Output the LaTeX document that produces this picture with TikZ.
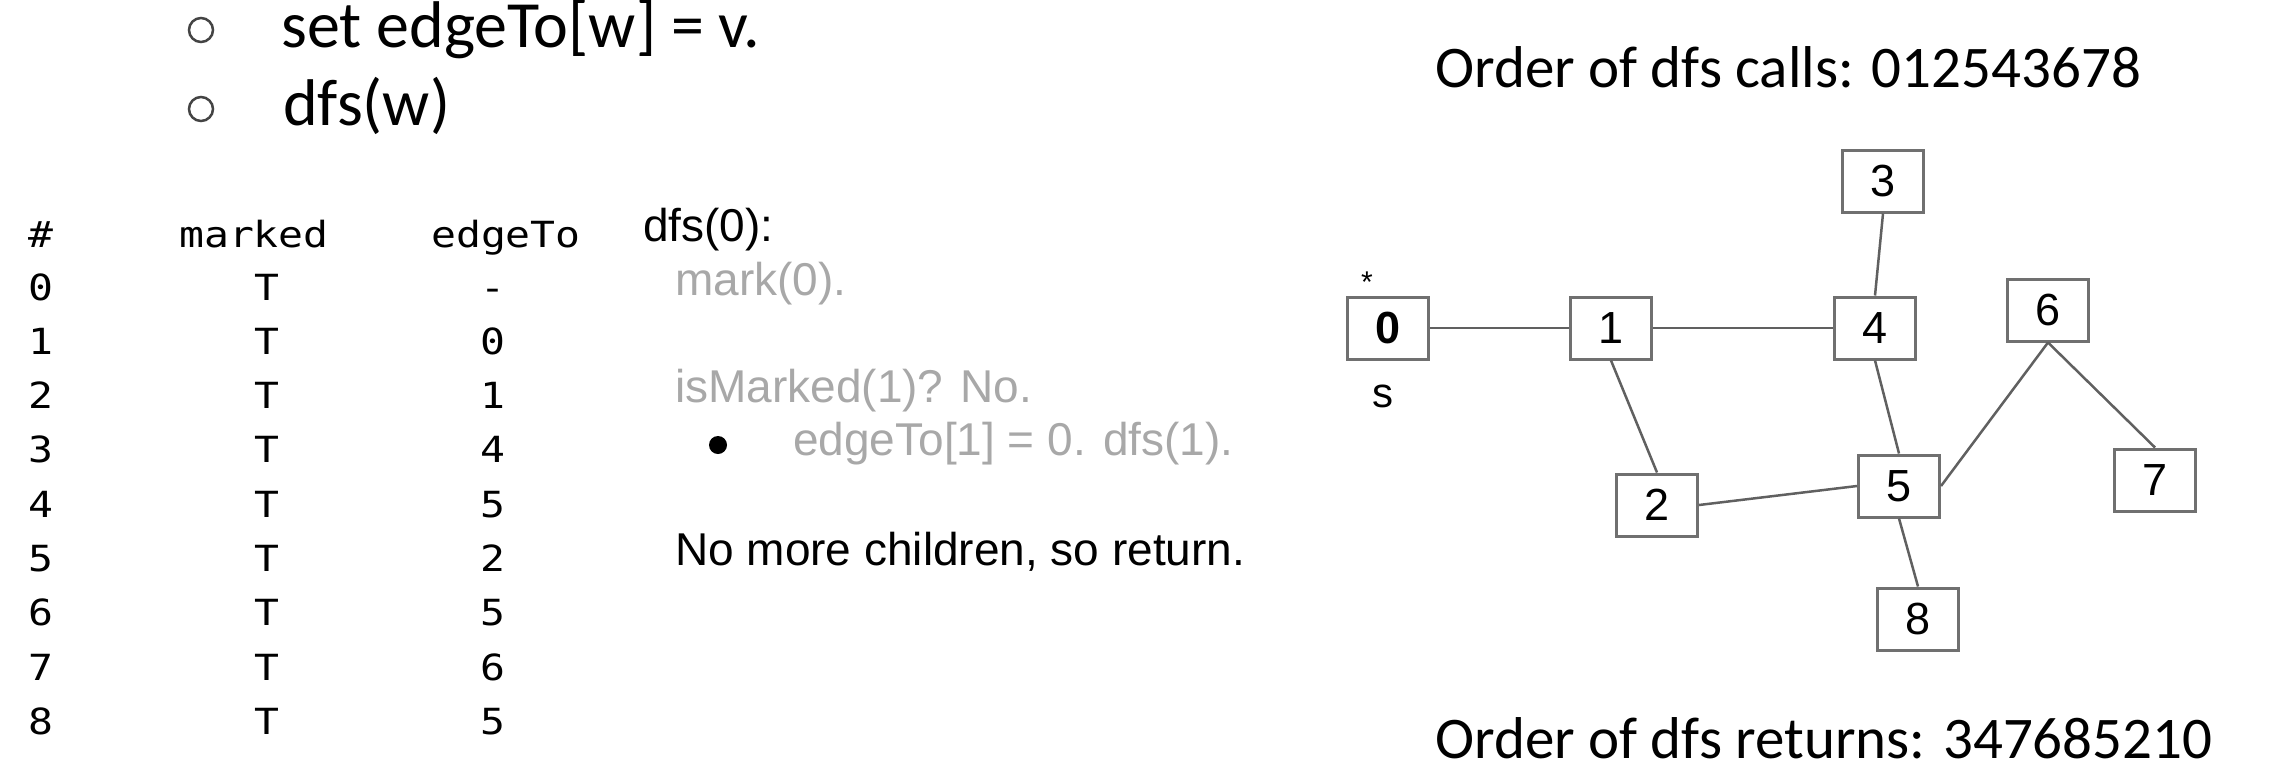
\documentclass[tikz,border=0pt]{standalone}
\usepackage{fontspec}
\setmainfont{Liberation Sans}
\newfontfamily\calib{Carlito}
\newfontfamily\monof[FakeStretch=1.15]{DejaVu Sans Mono}
\definecolor{vgray}{HTML}{707070}
\definecolor{egray}{HTML}{606060}
\definecolor{tgray}{HTML}{A8A8A8}
\definecolor{bgray}{HTML}{444444}
\begin{document}
\begin{tikzpicture}[x=1pt,y=-1pt,
  vtx/.style={draw=vgray, line width=3pt, minimum width=81pt, minimum height=62pt, inner sep=0pt, fill=white, font=\fontsize{45}{50}\selectfont},
  edge/.style={draw=egray, line width=2.5pt},
  bigtxt/.style={anchor=base west, inner sep=0pt, font=\calib\fontsize{66}{72}\selectfont},
  ordtxt/.style={anchor=base west, inner sep=0pt, font=\calib\fontsize{59}{66}\selectfont},
  ariatxt/.style={anchor=base west, inner sep=0pt, font=\fontsize{46}{52}\selectfont},
  greytxt/.style={ariatxt, text=tgray},
  monol/.style={anchor=base west, inner sep=0pt, font=\monof\fontsize{36}{42}\selectfont},
  monoc/.style={anchor=base, inner sep=0pt, font=\monof\fontsize{36}{42}\selectfont},
  hollow/.style={draw=bgray, line width=2.5pt, circle, minimum size=24pt, inner sep=0pt},
  solid/.style={fill=black, circle, minimum size=18pt, inner sep=0pt}
]
\useasboundingbox (0,0) rectangle (2286,772);

% top bullets
\node[hollow] (b1) at (201,30) {};
\node[bigtxt] (t1) at (281,47) {set edgeTo[w] = v.};
\node[hollow] (b2) at (201,109) {};
\node[bigtxt] (t2) at (283,125) {dfs(w)};

% table
\node[monol] (h0) at (28,247) {\#};
\node[monoc] (h1) at (254,247) {marked};
\node[monoc] (h2) at (506,247) {edgeTo};
\foreach \i/\e in {0/-,1/0,2/1,3/4,4/5,5/2,6/5,7/6,8/5}{
  \node[monol] (r\i a) at (28,{300+54.3*\i}) {\i};
  \node[monoc] (r\i b) at (267,{300+54.3*\i}) {T};
  \node[monoc] (r\i c) at (493,{300+54.3*\i}) {\e};
}

% trace text
\node[ariatxt] (d0) at (643,241) {dfs(0):};
\node[greytxt] (d1) at (675,295) {mark(0).};
\node[greytxt] (d2) at (675,402) {isMarked(1)? No.};
\node[solid] (dot) at (718,445) {};
\node[greytxt] (d3) at (793,455) {edgeTo[1] = 0. dfs(1).};
\node[ariatxt] (d4) at (675,565) {No more children, so return.};

% orders
\node[ordtxt] (oc) at (1435,87) {Order of dfs calls: 012543678};
\node[ordtxt] (orr) at (1435,758) {Order of dfs returns: 347685210};

% graph
\node[vtx] (n0) at (1388,328) {\textbf{0}\hspace{6pt}};
\node[vtx] (n1) at (1611,328) {1};
\node[vtx] (n4) at (1875,328) {4};
\node[vtx] (n3) at (1883,181) {3};
\node[vtx] (n6) at (2048,310) {6};
\node[vtx] (n2) at (1657,505) {2};
\node[vtx] (n5) at (1899,486) {5};
\node[vtx] (n7) at (2155,480) {7};
\node[vtx] (n8) at (1918,619) {8};
\node[inner sep=0pt, font=\fontsize{30}{30}\selectfont] (star) at (1367,282) {*};
\node[anchor=base, inner sep=0pt, font=\fontsize{42}{46}\selectfont] (slab) at (1383,407) {s};

\draw[edge] (n0.east) -- (n1.west);
\draw[edge] (n1.east) -- (n4.west);
\draw[edge] (n3.south) -- (n4.north);
\draw[edge] (n1.south) -- (n2.north);
\draw[edge] (n4.south) -- (n5.north);
\draw[edge] (n2.east) -- (n5.west);
\draw[edge] (n5.east) -- (n6.south);
\draw[edge] (n6.south) -- (n7.north);
\draw[edge] (n5.south) -- (n8.north);
\end{tikzpicture}
\end{document}
